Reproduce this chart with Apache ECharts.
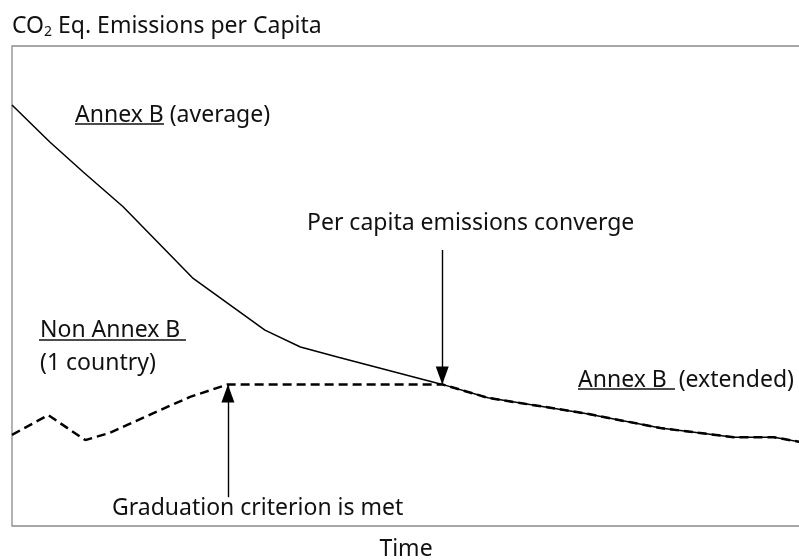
<!DOCTYPE html>
<html>
<head>
<meta charset="utf-8">
<script src="https://cdn.jsdelivr.net/npm/echarts/dist/echarts.min.js"></script>
<style>
  html, body { margin: 0; padding: 0; background: #fff; }
  #chart { width: 799px; height: 560px; }
</style>
</head>
<body>
<div id="chart"></div>
<script>
// schematic values, arbitrary units (time 0..100, emissions 0..100)
var annexTime = [0, 4.8, 9.0, 14.1, 22.9, 32.1, 36.6, 41.3, 54.6, 60.4, 72.6, 82.3, 91.6, 96.7, 100];
var annexB    = [87.7, 80.0, 73.8, 66.5, 51.7, 40.8, 37.3, 35.2, 29.5, 26.7, 23.5, 20.4, 18.5, 18.5, 17.5];

var nonAnnexTime = [0, 4.6, 9.3, 12.4, 17.1, 22.6, 27.4, 54.6, 60.4, 72.6, 82.3, 91.6, 96.7, 100];
var nonAnnexB    = [19.0, 23.1, 17.9, 19.4, 22.9, 26.9, 29.5, 29.5, 26.7, 23.5, 20.4, 18.5, 18.5, 17.5];

// arrows: [x, yFrom, yTo]
var convergeArrow   = [54.6, 57.5, 29.5];
var graduationArrow = [27.4, 6.0, 29.5];

var FONT = 'Noto Sans';
var FS = 23;

function pairs(xs, ys) {
  let out = [];
  for (let i = 0; i < xs.length; i++) out.push([xs[i], ys[i]]);
  return out;
}

function label(text, x, baseline) {
  return {
    type: 'text',
    x: x,
    y: baseline - 6.5,
    silent: true,
    style: {
      text: text,
      fontFamily: FONT,
      fontSize: FS,
      fill: '#111',
      align: 'left',
      verticalAlign: 'middle'
    }
  };
}

function underline(x1, x2, y) {
  return {
    type: 'line',
    silent: true,
    shape: { x1: x1, y1: y, x2: x2, y2: y },
    style: { stroke: '#111', lineWidth: 1.6 }
  };
}

var chart = echarts.init(document.getElementById('chart'));

chart.setOption({
  animation: false,
  backgroundColor: '#fff',
  grid: {
    left: 12,
    right: -1,
    top: 46,
    bottom: 34,
    outerBoundsMode: 'none',
    show: true,
    borderColor: '#8a8a8a',
    borderWidth: 1.3
  },
  xAxis: {
    type: 'value',
    min: 0,
    max: 100,
    axisLine: { show: false },
    axisTick: { show: false },
    axisLabel: { show: false },
    splitLine: { show: false },
    name: 'Time',
    nameLocation: 'middle',
    nameGap: 12,
    nameTextStyle: { fontFamily: FONT, fontSize: FS, color: '#111' }
  },
  yAxis: {
    type: 'value',
    min: 0,
    max: 100,
    axisLine: { show: false },
    axisTick: { show: false },
    axisLabel: { show: false },
    splitLine: { show: false },
    name: '{a|CO}{s|2}{a| Eq. Emissions per Capita}',
    nameLocation: 'end',
    nameGap: 20,
    nameTextStyle: {
      align: 'left',
      verticalAlign: 'middle',
      rich: {
        a: { fontFamily: FONT, fontSize: FS, color: '#111', lineHeight: 26 },
        s: { fontFamily: FONT, fontSize: 14, color: '#111', lineHeight: 9, verticalAlign: 'bottom' }
      }
    }
  },
  series: [
    {
      name: 'Annex B',
      type: 'line',
      data: pairs(annexTime, annexB),
      showSymbol: false,
      lineStyle: { color: '#000', width: 1.5 },
      z: 3
    },
    {
      name: 'Non Annex B',
      type: 'line',
      data: pairs(nonAnnexTime, nonAnnexB),
      showSymbol: false,
      lineStyle: { color: '#000', width: 2.5, type: [9, 5] },
      z: 2,
      markLine: {
        silent: true,
        symbol: ['none', 'triangle'],
        symbolSize: [13, 18],
        symbolOffset: [[0, 0], [0, 9]],
        label: { show: false },
        lineStyle: { color: '#000', width: 1.4, type: 'solid' },
        data: [
          [{ coord: [convergeArrow[0], convergeArrow[1]] }, { coord: [convergeArrow[0], convergeArrow[2]] }],
          [{ coord: [graduationArrow[0], graduationArrow[1]] }, { coord: [graduationArrow[0], graduationArrow[2]] }]
        ]
      }
    }
  ],
  graphic: [
    label('Annex B (average)', 75, 122),
    underline(75, 164, 124),
    label('Per capita emissions converge', 307, 230),
    label('Non Annex B', 40, 337),
    underline(39, 186, 340),
    label('(1 country)', 40, 370),
    label('Graduation criterion is met', 112, 515),
    label('Annex B  (extended)', 578, 387),
    underline(578, 675, 389)
  ]
});
</script>
</body>
</html>
